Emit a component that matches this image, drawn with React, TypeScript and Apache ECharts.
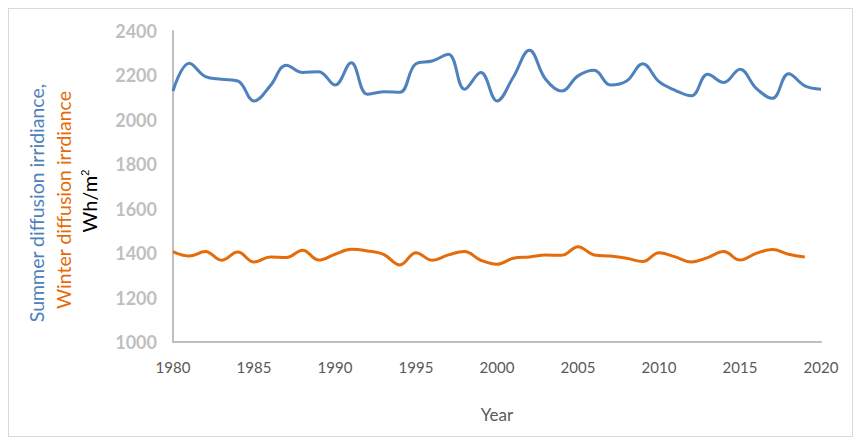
import React, { useEffect, useRef } from "react";
import * as echarts from "echarts";

const years = [
  1980, 1981, 1982, 1983, 1984, 1985, 1986, 1987, 1988, 1989,
  1990, 1991, 1992, 1993, 1994, 1995, 1996, 1997, 1998, 1999,
  2000, 2001, 2002, 2003, 2004, 2005, 2006, 2007, 2008, 2009,
  2010, 2011, 2012, 2013, 2014, 2015, 2016, 2017, 2018, 2019, 2020,
];

const summer = [
  2130, 2255, 2195, 2183, 2175, 2085, 2153, 2246, 2213, 2217,
  2157, 2257, 2115, 2127, 2124, 2253, 2265, 2295, 2138, 2213,
  2085, 2192, 2313, 2183, 2130, 2198, 2223, 2157, 2175, 2253,
  2172, 2133, 2108, 2205, 2168, 2228, 2142, 2097, 2208, 2153, 2138,
];

const winter = [
  1407, 1387, 1407, 1368, 1405, 1360, 1383, 1380, 1413, 1369,
  1395, 1417, 1410, 1395, 1347, 1402, 1368, 1392, 1407, 1368,
  1350, 1377, 1383, 1392, 1390, 1429, 1392, 1387, 1377, 1362,
  1402, 1383, 1360, 1380, 1407, 1369, 1399, 1416, 1395, 1383,
];

const yTitleSummer = "Summer diffusion irridiance,";
const yTitleWinter = "Winter diffusion irrdiance";
const yTitleUnit = "Wh/m";
const yTitleUnitSup = "2";
const xTitle = "Year";

export default function App() {
  const ref = useRef<HTMLDivElement>(null);

  useEffect(() => {
    if (!ref.current) return;
    const chart = echarts.init(ref.current, null, { renderer: "svg" });
    const summerData = summer.map((v, i) => [years[i], v]);
    const winterData = winter.map((v, i) => [years[i], v]);
    chart.setOption({
      animation: false,
      textStyle: { fontFamily: "Lato" },
      grid: { left: 164, top: 22, width: 648, height: 311, containLabel: false },
      xAxis: {
        type: "value",
        min: 1980,
        max: 2020,
        interval: 5,
        name: xTitle,
        nameLocation: "middle",
        nameGap: 64,
        nameTextStyle: { color: "#595959", fontSize: 17, fontFamily: "Lato" },
        axisLine: { show: true, lineStyle: { color: "#bfbfbf", width: 2 } },
        axisTick: { show: false },
        splitLine: { show: false },
        axisLabel: {
          color: "#595959",
          fontSize: 15,
          margin: 17,
          fontFamily: "Lato",
          formatter: (v: number) => String(v),
        },
      },
      yAxis: {
        type: "value",
        min: 1000,
        max: 2400,
        interval: 200,
        axisLine: { show: true, lineStyle: { color: "#bfbfbf", width: 2 } },
        axisTick: { show: false },
        splitLine: { show: false },
        axisLabel: {
          color: "#bfbfbf",
          fontSize: 18,
          fontWeight: "bold",
          margin: 16,
          fontFamily: "Lato",
          formatter: (v: number) => String(v),
        },
      },
      graphic: [
        {
          type: "text",
          x: 27,
          y: 194,
          rotation: Math.PI / 2,
          style: {
            text: yTitleSummer,
            fill: "#4f81bd",
            fontSize: 19.5,
            fontFamily: "Lato",
            align: "center",
            verticalAlign: "middle",
          },
        },
        {
          type: "text",
          x: 54,
          y: 191,
          rotation: Math.PI / 2,
          style: {
            text: yTitleWinter,
            fill: "#e46c0a",
            fontSize: 19.5,
            fontFamily: "Lato",
            align: "center",
            verticalAlign: "middle",
          },
        },
        {
          type: "text",
          x: 80,
          y: 192,
          rotation: Math.PI / 2,
          style: {
            text: yTitleUnit + "{sup|" + yTitleUnitSup + "}",
            fill: "#000000",
            fontSize: 20,
            fontFamily: "Lato",
            align: "center",
            verticalAlign: "middle",
            rich: {
              sup: { fontSize: 11, verticalAlign: "top", fill: "#000000", padding: [0, 0, 8, 0] },
            },
          },
        },
      ],
      series: [
        {
          name: "Summer",
          type: "line",
          data: summerData,
          smooth: 0.4,
          showSymbol: false,
          lineStyle: { color: "#4f81bd", width: 3 },
          itemStyle: { color: "#4f81bd" },
        },
        {
          name: "Winter",
          type: "line",
          data: winterData,
          smooth: 0.4,
          showSymbol: false,
          lineStyle: { color: "#e46c0a", width: 3 },
          itemStyle: { color: "#e46c0a" },
        },
      ],
    });
    return () => chart.dispose();
  }, []);

  return (
    <div
      ref={ref}
      style={{
        width: 845,
        height: 429,
        border: "1px solid #d9d9d9",
        boxSizing: "border-box",
        background: "#ffffff",
      }}
    />
  );
}
